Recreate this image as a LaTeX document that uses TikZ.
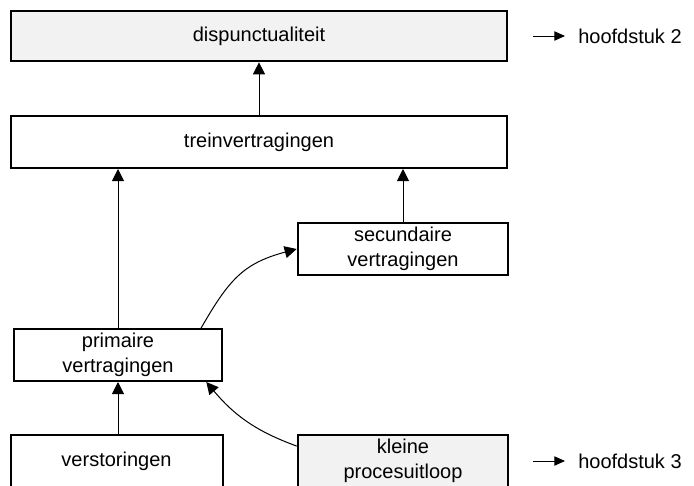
\documentclass[tikz,border=0pt]{standalone}
\usepackage{fontspec}
\setmainfont{Liberation Sans}
\usetikzlibrary{arrows.meta}
\tikzset{
	blok/.style={draw, line width=1.5pt, minimum height=39pt, inner sep=0pt, align=center, font=\fontsize{15}{18.75}\selectfont},
	grijs/.style={fill=black!5},
	pijl/.style={line width=0.75pt, -{Triangle[length=9pt,width=9pt]}},
	verwijs/.style={line width=0.75pt, -{Triangle[length=8pt,width=7pt]}},
	hfd/.style={anchor=west, inner xsep=9.75pt, inner ysep=0pt, font=\fontsize{15}{18.75}\selectfont}
}

\begin{document}
\begin{tikzpicture}[x=0.75pt,y=-0.75pt]
			%%%%% START %%%%%
			\useasboundingbox (0,0) rectangle (694,486);
			\clip (0,0) rectangle (694,486);
			
			\node[blok,grijs,minimum width=372pt,minimum height=38pt] (disp) at (259,36) {dispunctualiteit};
			\node[blok,minimum width=372pt] (trein) at (259,142) {treinvertragingen};
			\node[blok,minimum width=158pt] (secundair) at (403,249) {secundaire\\vertragingen};
			\node[blok,minimum width=156pt] (primair) at (118,355) {primaire\\vertragingen};
			\node[blok,minimum width=159pt] (verstoring) at (116.5,461) {verstoringen};
			\node[blok,grijs,minimum width=158pt] (uitloop) at (403,461) {kleine\\procesuitloop};
			
			\draw[pijl] (trein.north) -- (disp.south);
			\draw[pijl] (primair.north) -- (primair.north |- trein.south);
			\draw[pijl] (secundair.north) -- (secundair.north |- trein.south);
			\draw[pijl] (verstoring.north -| primair.south) -- (primair.south);
			\draw[pijl] (primair.18) to[out=60,in=195,looseness=1.15] (secundair.west);
			\draw[pijl] (uitloop.172) to[out=160,in=-50] (primair.-17);
			
			\coordinate (p2) at (533,36);
			\node[hfd] (h2) at (565,36) {hoofdstuk 2};
			\draw[verwijs] (p2) -- (h2.west);
			
			\coordinate (p3) at (533,461);
			\node[hfd] (h3) at (565,461) {hoofdstuk 3};
			\draw[verwijs] (p3) -- (h3.west);
			%%%%% END %%%%%
\end{tikzpicture}
\end{document}
